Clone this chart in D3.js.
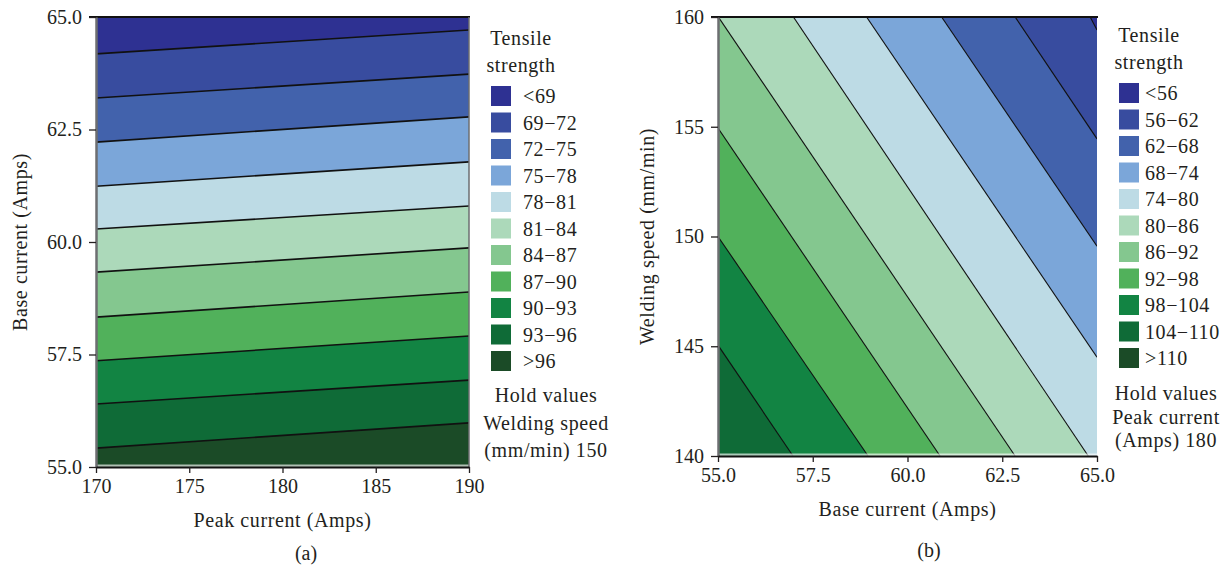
<!DOCTYPE html>
<html>
<head>
<meta charset="utf-8">
<script src="https://cdn.jsdelivr.net/npm/d3@7"></script>
<style>
  html, body { margin: 0; padding: 0; background: #fff; }
  svg text { font-family: "Liberation Serif", "Times New Roman", serif; fill: #231f20; }
  svg text.label { letter-spacing: 0.6px; }
</style>
</head>
<body>
<svg id="chart" width="1229" height="570"></svg>
<script>
// Shared band colours, from lowest strength (navy) to highest (dark green)
const bandColors = ["#2e3192", "#384c9f", "#4262ac", "#7ba6d9", "#bddbe5",
                    "#acd9ba", "#84c78f", "#51b15b", "#128443", "#0f6b37", "#1b4b27"];

// ---- Panel (a): peak current vs base current, welding speed held at 150 mm/min
const levelsA = [69, 72, 75, 78, 81, 84, 87, 90, 93, 96];
const labelsA = ["<69", "69−72", "72−75", "75−78", "78−81", "81−84",
                 "84−87", "87−90", "90−93", "93−96", ">96"];
// base current where each contour meets peak = 170 and peak = 190
const baseAtPeak170 = [64.18, 63.20, 62.22, 61.24, 60.29, 59.33, 58.33, 57.36, 56.40, 55.42];
const baseAtPeak190 = [64.71, 63.73, 62.78, 61.78, 60.80, 59.87, 58.89, 57.91, 56.93, 55.98];
const peakTicks = [170, 175, 180, 185, 190];
const baseTicksA = [55, 57.5, 60, 62.5, 65];

// ---- Panel (b): base current vs welding speed, peak current held at 180 A
const levelsB = [56, 62, 68, 74, 80, 86, 92, 98, 104];
const labelsB = ["<56", "56−62", "62−68", "68−74", "74−80", "80−86",
                 "86−92", "92−98", "98−104", "104−110", ">110"];
// each contour as its two crossings of the plot frame: [base current, welding speed]
const contourStartB = [[64.82, 160], [62.84, 160], [60.90, 160], [58.92, 160], [56.99, 160],
                       [55.01, 160], [55.00, 154.94], [55.00, 150.00], [55.00, 145.05]];
const contourEndB   = [[65.00, 159.41], [65.00, 154.45], [65.00, 149.56], [65.00, 144.50], [64.77, 140],
                       [62.84, 140], [60.86, 140], [58.96, 140], [56.98, 140]];
const baseTicksB = [55, 57.5, 60, 62.5, 65];
const speedTicks = [140, 145, 150, 155, 160];

const svg = d3.select("#chart");

// Region on the lower-strength side of a straight contour (pixel coords), extended far beyond the frame
function lowSideRegion(p, q) {
  const dx = q[0] - p[0], dy = q[1] - p[1];
  const len = Math.hypot(dx, dy);
  const ux = dx / len, uy = dy / len;
  const nx = uy, ny = -ux;
  const L = 3000;
  const a = [p[0] - L * ux, p[1] - L * uy];
  const b = [q[0] + L * ux, q[1] + L * uy];
  return [a, b, [b[0] + L * nx, b[1] + L * ny], [a[0] + L * nx, a[1] + L * ny]];
}

function drawPanel(cfg) {
  const g = svg.append("g");
  const x = d3.scaleLinear().domain(cfg.xDomain).range([cfg.left, cfg.right]);
  const y = d3.scaleLinear().domain(cfg.yDomain).range([cfg.bottom, cfg.top]);

  const clipId = "clip-" + cfg.id;
  svg.append("defs").append("clipPath").attr("id", clipId)
    .append("rect").attr("x", cfg.left).attr("y", cfg.top)
    .attr("width", cfg.right - cfg.left).attr("height", cfg.bottom - cfg.top);

  const plot = g.append("g").attr("clip-path", `url(#${clipId})`);
  const n = cfg.starts.length;

  // highest-strength band fills the whole frame, lower bands are painted over it
  plot.append("rect")
    .attr("x", cfg.left).attr("y", cfg.top)
    .attr("width", cfg.right - cfg.left).attr("height", cfg.bottom - cfg.top)
    .attr("fill", bandColors[n]);

  const segs = d3.range(n).map(i => [
    [x(cfg.starts[i][0]), y(cfg.starts[i][1])],
    [x(cfg.ends[i][0]), y(cfg.ends[i][1])]
  ]);

  d3.range(n - 1, -1, -1).forEach(i => {
    plot.append("path")
      .attr("d", d3.line()(lowSideRegion(segs[i][0], segs[i][1])) + "Z")
      .attr("fill", bandColors[i]);
  });

  // contour lines
  segs.forEach(s => {
    plot.append("path")
      .attr("d", d3.line()(s))
      .attr("fill", "none")
      .attr("stroke", "#111")
      .attr("stroke-width", cfg.lineWidth);
  });

  // pale strip along the lower edge of the filled area
  plot.append("rect")
    .attr("x", cfg.left).attr("y", cfg.bottom - 2.5)
    .attr("width", cfg.right - cfg.left).attr("height", 2.5)
    .attr("fill", "#fff").attr("opacity", 0.65);

  // frame
  g.append("line").attr("x1", cfg.left - 7).attr("x2", cfg.right + 1)
    .attr("y1", cfg.top).attr("y2", cfg.top)
    .attr("stroke", "#111").attr("stroke-width", 1.8);
  if (cfg.rightEdge) {
    g.append("line").attr("x1", cfg.right).attr("x2", cfg.right)
      .attr("y1", cfg.top).attr("y2", cfg.bottom)
      .attr("stroke", "#6d6e71").attr("stroke-width", 1.5);
  }

  // axes
  const yAxis = g.append("g").attr("transform", `translate(${cfg.left},0)`)
    .call(d3.axisLeft(y).tickValues(cfg.yTicks).tickFormat(d3.format(cfg.yFormat))
      .tickSize(7).tickSizeOuter(0).tickPadding(7));
  yAxis.select(".domain").attr("stroke", "#6d6e71").attr("stroke-width", 2.5);
  yAxis.selectAll(".tick line").attr("stroke", "#231f20").attr("stroke-width", 1.3);
  yAxis.selectAll(".tick text").style("font-size", "20px").attr("fill", "#231f20");

  const xAxis = g.append("g").attr("transform", `translate(0,${cfg.bottom})`)
    .call(d3.axisBottom(x).tickValues(cfg.xTicks).tickFormat(d3.format(cfg.xFormat))
      .tickSize(6).tickSizeOuter(0).tickPadding(6));
  xAxis.select(".domain").attr("stroke", "#111").attr("stroke-width", 2.2);
  xAxis.selectAll(".tick line").attr("stroke", "#231f20").attr("stroke-width", 1.3);
  xAxis.selectAll(".tick text").style("font-size", "20px").attr("fill", "#231f20");

  // axis titles
  g.append("text").attr("class", "label")
    .attr("x", (cfg.left + cfg.right) / 2).attr("y", cfg.xTitleY)
    .attr("text-anchor", "middle").attr("dy", "0.35em").style("font-size", "20px")
    .text(cfg.xTitle);
  g.append("text").attr("class", "label")
    .attr("transform", `translate(${cfg.yTitleX},${(cfg.top + cfg.bottom) / 2}) rotate(-90)`)
    .attr("text-anchor", "middle").attr("dy", "0.35em").style("font-size", "20px")
    .text(cfg.yTitle);

  // caption
  g.append("text").attr("x", cfg.captionX).attr("y", cfg.captionY)
    .attr("text-anchor", "middle").attr("dy", "0.35em").style("font-size", "20px")
    .text(cfg.caption);

  // legend
  const lg = cfg.legend;
  g.append("text").attr("class", "label").attr("x", lg.titleX).attr("y", lg.titleY)
    .attr("text-anchor", "middle").attr("dy", "0.35em").style("font-size", "20px").text("Tensile");
  g.append("text").attr("class", "label").attr("x", lg.titleX).attr("y", lg.titleY + 27)
    .attr("text-anchor", "middle").attr("dy", "0.35em").style("font-size", "20px").text("strength");
  const items = g.append("g").selectAll("g").data(cfg.labels).join("g")
    .attr("transform", (d, i) => `translate(${lg.swatchX},${lg.swatchY + i * lg.step})`);
  items.append("rect").attr("width", 20).attr("height", 20)
    .attr("fill", (d, i) => bandColors[i]);
  items.append("text").attr("class", "label").attr("x", lg.textDx).attr("y", 10).attr("dy", "0.35em")
    .style("font-size", "20px").text(d => d);
  lg.hold.forEach((t, i) => {
    g.append("text").attr("class", "label").attr("x", lg.holdX).attr("y", lg.holdY + i * lg.holdStep)
      .attr("text-anchor", "middle").attr("dy", "0.35em").style("font-size", "20px").text(t);
  });
}

drawPanel({
  id: "a",
  left: 96, right: 469, top: 17, bottom: 467,
  xDomain: [170, 190], yDomain: [55, 65],
  starts: levelsA.map((l, i) => [170, baseAtPeak170[i]]),
  ends: levelsA.map((l, i) => [190, baseAtPeak190[i]]),
  lineWidth: 1.6,
  rightEdge: true,
  xTicks: peakTicks, xFormat: "d",
  yTicks: baseTicksA, yFormat: ".1f",
  xTitle: "Peak current (Amps)", xTitleY: 520,
  yTitle: "Base current (Amps)", yTitleX: 20,
  caption: "(a)", captionX: 306, captionY: 553,
  labels: labelsA,
  legend: { titleX: 521, titleY: 38, swatchX: 491, swatchY: 86, step: 26.5, textDx: 32,
            hold: ["Hold values", "Welding speed", "(mm/min) 150"],
            holdX: 546, holdY: 395, holdStep: 27.5 }
});

drawPanel({
  id: "b",
  left: 718, right: 1097, top: 17, bottom: 456,
  xDomain: [55, 65], yDomain: [140, 160],
  starts: contourStartB,
  ends: contourEndB,
  lineWidth: 1.1,
  rightEdge: false,
  xTicks: baseTicksB, xFormat: ".1f",
  yTicks: speedTicks, yFormat: "d",
  xTitle: "Base current (Amps)", xTitleY: 509,
  yTitle: "Welding speed (mm/min)", yTitleX: 647,
  caption: "(b)", captionX: 929, captionY: 550,
  labels: labelsB,
  legend: { titleX: 1149, titleY: 35, swatchX: 1119, swatchY: 83, step: 26.5, textDx: 26,
            hold: ["Hold values", "Peak current", "(Amps) 180"],
            holdX: 1166, holdY: 393, holdStep: 23.5 }
});
</script>
</body>
</html>
